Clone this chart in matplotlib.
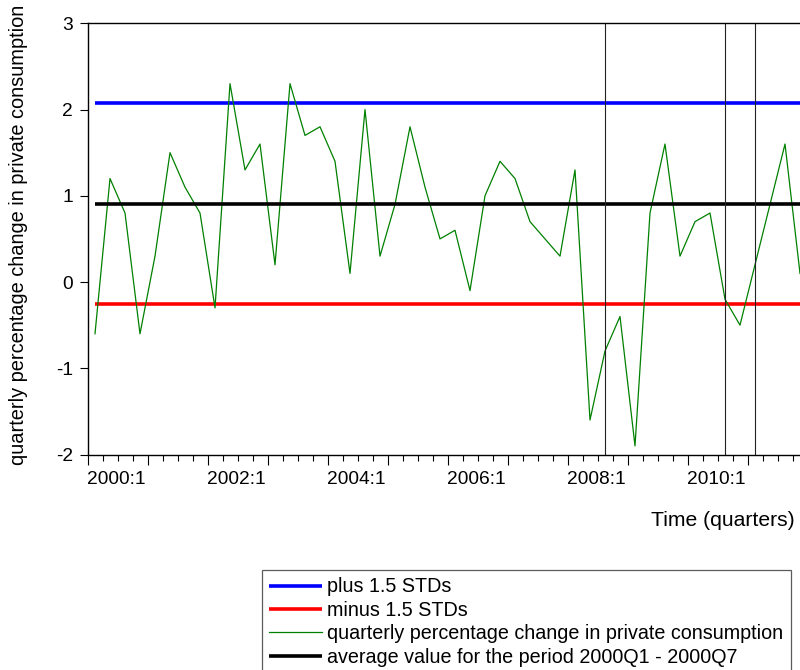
import matplotlib.pyplot as plt
import numpy as np

plt.rcParams['font.family'] = ['Liberation Sans', 'DejaVu Sans']

# quarterly % change in private consumption, 2000Q1 - 2011Q4
consumption = [
    -0.6, 1.2, 0.8, -0.6, 0.3, 1.5, 1.1, 0.8,
    -0.3, 2.3, 1.3, 1.6, 0.2, 2.3, 1.7, 1.8,
    1.4, 0.1, 2.0, 0.3, 0.9, 1.8, 1.1, 0.5,
    0.6, -0.1, 1.0, 1.4, 1.2, 0.7, 0.5, 0.3,
    1.3, -1.6, -0.8, -0.4, -1.9, 0.8, 1.6, 0.3,
    0.7, 0.8, -0.2, -0.5, 0.2, 0.9, 1.6, 0.1,
]
avg_value = 0.91
plus_std = 2.08
minus_std = -0.25
marked_quarters = ['2008:3', '2010:3', '2011:1']
start_year = 2000
label_years = [2000, 2002, 2004, 2006, 2008, 2010]


def qpos(label):
    y, q = label.split(':')
    return int(y) + (int(q) - 1) / 4 + 0.125


n = len(consumption)
t = start_year + 0.125 + 0.25 * np.arange(n)

fig = plt.figure(figsize=(8, 6.7), dpi=100)
W, H = 800, 670
ax = fig.add_axes([87.5 / W, 1 - 454.5 / H, 720 / W, (454.5 - 23.3) / H])

ax.plot(t, [plus_std] * n, color='#0000ff', lw=2.6, label='plus 1.5 STDs', solid_capstyle='butt')
ax.plot(t, [minus_std] * n, color='#ff0000', lw=2.6, label='minus 1.5 STDs', solid_capstyle='butt')
ax.plot(t, consumption, color='#008000', lw=0.9,
        label='quarterly percentage change in private consumption')
ax.plot(t, [avg_value] * n, color='black', lw=2.6,
        label='average value for the period 2000Q1 - 2000Q7', solid_capstyle='butt')

for q in marked_quarters:
    ax.axvline(qpos(q), color='#222222', lw=0.8)

ax.set_xlim(start_year, start_year + n / 4)
ax.set_ylim(-2, 3)
ax.set_yticks([-2, -1, 0, 1, 2, 3])
ax.set_yticklabels(['-2', '-1', '0', '1', '2', '3'])

years = np.arange(start_year, start_year + n // 4)
ax.set_xticks(years)
ax.set_xticklabels([f'{y}:1' if y in label_years else '' for y in years], ha='left')
ax.set_xticks(start_year + 0.25 * np.arange(n), minor=True)

ax.tick_params(axis='both', labelsize=13.8, direction='out', width=0.8, color='black')
ax.tick_params(axis='x', which='major', length=7, pad=5)
ax.tick_params(axis='x', which='minor', length=4, width=0.8)
ax.tick_params(axis='y', length=6, pad=4.5)
for s in ax.spines.values():
    s.set_linewidth(1.0)

fig.text(19 / W, 1 - 235 / H, 'quarterly percentage change in private consumption',
         rotation=90, ha='center', va='center', fontsize=14.4)
fig.text(795 / W, 1 - 520 / H, 'Time (quarters)', ha='right', va='center', fontsize=15.2)

leg = fig.legend(loc='upper left', bbox_to_anchor=(262 / W, 1 - 570 / H),
                 fontsize=14.2, frameon=True, fancybox=False, handlelength=2.64,
                 handletextpad=0.27, labelspacing=0.22, borderpad=0.38, borderaxespad=0)
leg.get_frame().set_edgecolor('#333333')
leg.get_frame().set_linewidth(0.9)

fig.savefig('out.png', dpi=100)
